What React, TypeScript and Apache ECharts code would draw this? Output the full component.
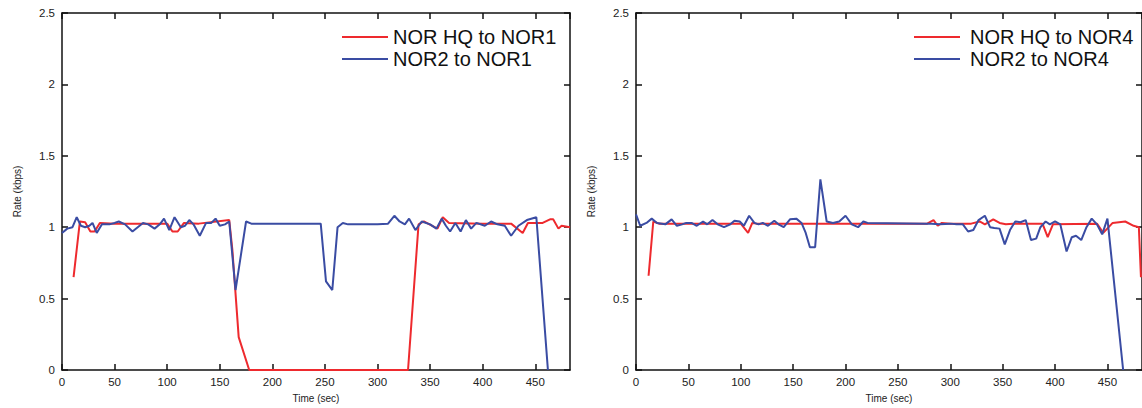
import React, { useEffect, useRef } from "react";
import * as echarts from "echarts";

const FONT = "'Liberation Sans', Arial, Helvetica, sans-serif";
const RED = "#ee2a2e";
const BLUE = "#3a4ca3";
const X_MAX = 483;

// Left panel: NOR HQ to NOR1 (red)
const leftRedT = [11, 17, 22, 27, 31, 36, 50, 100, 105, 110, 116, 130, 159, 162, 168, 178, 329, 339, 344, 357, 362, 368, 400, 427, 438, 443, 457, 464, 467, 472, 475, 483];
const leftRedV = [0.65, 1.04, 1.035, 0.97, 0.97, 1.03, 1.025, 1.025, 0.97, 0.97, 1.03, 1.025, 1.05, 0.84, 0.23, 0, 0, 1.02, 1.04, 0.99, 1.07, 1.03, 1.025, 1.025, 0.96, 1.03, 1.03, 1.055, 1.055, 0.99, 1.01, 1.0];

// Left panel: NOR2 to NOR1 (blue)
const leftBlueT = [0, 5, 10, 14, 18, 22, 26, 29, 33, 38, 45, 50, 54, 60, 67, 72, 77, 82, 88, 93, 97, 102, 107, 113, 117, 121, 125, 131, 137, 142, 146, 150, 155, 159, 165, 175, 180, 246, 251, 257, 262, 267, 272, 300, 310, 316, 321, 326, 330, 336, 342, 350, 356, 361, 365, 369, 374, 379, 384, 389, 394, 402, 408, 414, 421, 427, 434, 442, 451, 462];
const leftBlueV = [0.96, 0.99, 1.0, 1.07, 1.01, 1.0, 1.01, 1.03, 0.96, 1.02, 1.02, 1.03, 1.04, 1.02, 0.97, 1.0, 1.03, 1.02, 0.99, 1.02, 1.06, 0.98, 1.07, 1.0, 1.01, 1.05, 1.02, 0.94, 1.03, 1.03, 1.06, 1.01, 1.02, 1.04, 0.56, 1.04, 1.025, 1.025, 0.62, 0.56, 1.0, 1.03, 1.02, 1.02, 1.025, 1.08, 1.04, 1.02, 1.06, 0.98, 1.04, 1.02, 0.99, 1.06, 1.01, 0.97, 1.03, 0.97, 1.05, 0.99, 1.03, 1.01, 1.04, 1.02, 1.01, 0.94, 1.01, 1.05, 1.07, 0];

// Right panel: NOR HQ to NOR4 (red)
const rightRedT = [12, 16.5, 22, 100, 107, 111, 115, 278, 284, 288, 292, 300, 320, 328, 333, 341, 347, 353, 360, 388, 393, 398, 440, 446, 455, 467, 475, 480, 482];
const rightRedV = [0.66, 1.04, 1.025, 1.025, 0.96, 1.03, 1.025, 1.025, 1.05, 1.01, 1.03, 1.025, 1.025, 1.04, 1.02, 1.055, 1.03, 1.02, 1.025, 1.025, 0.93, 1.02, 1.025, 0.96, 1.03, 1.04, 1.01, 1.0, 0.65];

// Right panel: NOR2 to NOR4 (blue)
const rightBlueT = [0, 4, 10, 15, 20, 28, 34, 39, 44, 48, 53, 58, 64, 68, 73, 78, 84, 90, 94, 99, 103, 108, 113, 117, 121, 126, 132, 136, 141, 147, 153, 158, 162, 166, 171, 176, 182, 188, 194, 200, 206, 212, 217, 221, 277, 282, 290, 300, 306, 312, 317, 322, 327, 333, 338, 342, 347, 352, 357, 362, 367, 372, 377, 382, 386, 391, 395, 400, 405, 411, 416, 420, 425, 430, 435, 440, 445, 450, 465];
const rightBlueV = [1.09, 1.01, 1.03, 1.06, 1.03, 1.02, 1.055, 1.01, 1.02, 1.03, 1.03, 1.01, 1.04, 1.02, 1.05, 1.02, 1.0, 1.02, 1.045, 1.04, 1.01, 1.08, 1.03, 1.02, 1.03, 1.01, 1.045, 1.02, 1.0, 1.055, 1.06, 1.03, 0.96, 0.86, 0.86, 1.335, 1.04, 1.03, 1.04, 1.08, 1.02, 1.0, 1.04, 1.03, 1.025, 1.025, 1.02, 1.025, 1.02, 1.02, 0.97, 0.98, 1.05, 1.08, 1.0, 0.995, 0.99, 0.88, 0.98, 1.04, 1.035, 1.05, 0.91, 0.92, 1.0, 1.04, 1.02, 1.04, 1.02, 0.83, 0.93, 0.94, 0.91, 1.0, 1.06, 1.02, 0.95, 1.06, 0];

const zip = (t: number[], v: number[]) => t.map((x, i) => [x, v[i]]);

const AX = "#111";

function xAxis(gridIndex: number, position: "top" | "bottom") {
  const main = position === "bottom";
  return {
    type: "value",
    gridIndex,
    position,
    min: 0,
    max: X_MAX,
    interval: 50,
    axisLine: { show: true, onZero: false, lineStyle: { color: AX, width: 1.5 } },
    axisTick: { show: true, inside: true, length: 6, lineStyle: { color: AX, width: 1.5 } },
    axisLabel: { show: main, showMaxLabel: false, fontSize: 11.5, color: "#222", fontFamily: FONT, margin: 6 },
    splitLine: { show: false },
    name: main ? "Time (sec)" : "",
    nameLocation: "middle",
    nameGap: 23,
    nameTextStyle: { fontSize: 10, color: "#222", fontFamily: FONT },
  };
}

function yAxis(gridIndex: number, position: "left" | "right") {
  const main = position === "left";
  return {
    type: "value",
    gridIndex,
    position,
    min: 0,
    max: 2.5,
    interval: 0.5,
    axisLine: { show: true, onZero: false, lineStyle: { color: AX, width: 1.5 } },
    axisTick: { show: true, inside: true, length: 6, lineStyle: { color: AX, width: 1.5 } },
    axisLabel: { show: main, fontSize: 11.5, color: "#222", fontFamily: FONT, margin: 7 },
    splitLine: { show: false },
    name: main ? "Rate (kbps)" : "",
    nameLocation: "middle",
    nameGap: 40,
    nameTextStyle: { fontSize: 10, color: "#222", fontFamily: FONT },
  };
}

function line(name: string, data: number[][], color: string, axis: number) {
  return {
    name,
    type: "line",
    xAxisIndex: axis,
    yAxisIndex: axis,
    data,
    symbol: "none",
    showSymbol: false,
    lineStyle: { color, width: 2 },
    itemStyle: { color },
    z: 2,
  };
}

function legend(left: number, names: string[], pad: number) {
  return {
    orient: "vertical",
    left,
    top: 22,
    icon: "rect",
    itemWidth: 46,
    itemHeight: 2,
    itemGap: 2,
    data: names,
    textStyle: { fontSize: 20, lineHeight: 20, color: "#111", fontFamily: FONT, padding: [0, 0, 0, pad] },
  };
}

export default function App() {
  const ref = useRef<HTMLDivElement>(null);
  useEffect(() => {
    if (!ref.current) return;
    const chart = echarts.init(ref.current, undefined, { renderer: "svg" });
    chart.setOption({
      animation: false,
      backgroundColor: "#ffffff",
      grid: [
        { left: 62, top: 13, width: 508, height: 357 },
        { left: 636, top: 13, width: 507, height: 357 },
      ],
      xAxis: [xAxis(0, "bottom"), xAxis(1, "bottom"), xAxis(0, "top"), xAxis(1, "top")],
      yAxis: [yAxis(0, "left"), yAxis(1, "left"), yAxis(0, "right"), yAxis(1, "right")],
      legend: [
        legend(337, ["NOR HQ to NOR1", "NOR2 to NOR1"], 0),
        legend(909, ["NOR HQ to NOR4", "NOR2 to NOR4"], 5),
      ],
      series: [
        line("NOR HQ to NOR1", zip(leftRedT, leftRedV), RED, 0),
        line("NOR2 to NOR1", zip(leftBlueT, leftBlueV), BLUE, 0),
        line("NOR HQ to NOR4", zip(rightRedT, rightRedV), RED, 1),
        line("NOR2 to NOR4", zip(rightBlueT, rightBlueV), BLUE, 1),
      ],
    });
    return () => chart.dispose();
  }, []);
  return (
    <div
      ref={ref}
      style={{ position: "absolute", left: 0, top: 0, width: 1142, height: 408, background: "#fff" }}
    />
  );
}
